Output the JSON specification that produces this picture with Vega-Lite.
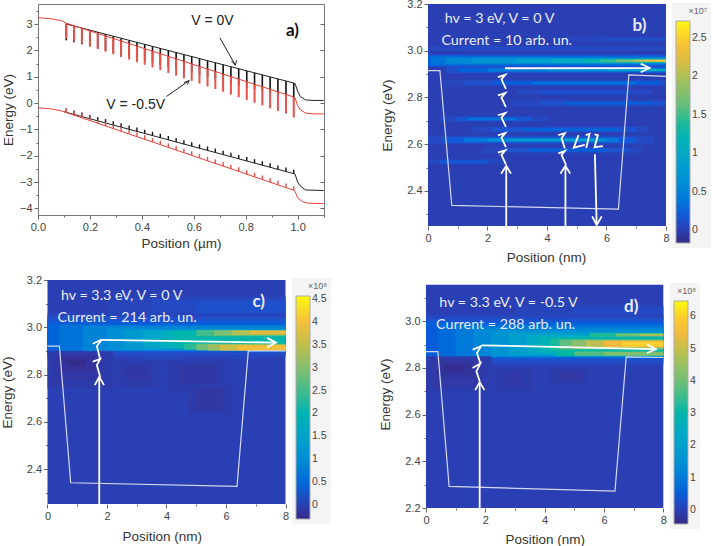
{
"$schema":"https://vega.github.io/schema/vega-lite/v6.json",
"autosize":"none",
"padding":{"left":38,"top":4,"right":675,"bottom":542},
"background":"white",
"columns":2,
"bounds":"flush",
"spacing":{"row":54,"column":102},
"resolve":{"scale":{"color":"independent"},"legend":{"color":"independent"}},
"config":{"view":{"stroke":null},
"axis":{"labelFont":"Liberation Sans","titleFont":"Liberation Sans","labelFontSize":11,"titleFontSize":13.5,"titleFontWeight":"normal","labelColor":"#444","titleColor":"#333","tickColor":"#666","domainColor":"#777","grid":false,"labelOverlap":false,"labelFlush":false,"tickSize":4},
"legend":{"labelFont":"Liberation Sans","titleFont":"Liberation Sans"}},
"datasets":{
"teeth":[
{"x":0.109,"bt":3.00,"bb":2.38,"rt":3.03,"rb":2.45,"vb":-0.35,"vbt":-0.2,"vr":-0.36,"vrt":-0.21},
{"x":0.139,"bt":2.93,"bb":2.31,"rt":2.94,"rb":2.36,"vb":-0.43,"vbt":-0.28,"vr":-0.46,"vrt":-0.31},
{"x":0.169,"bt":2.85,"bb":2.23,"rt":2.84,"rb":2.26,"vb":-0.51,"vbt":-0.36,"vr":-0.56,"vrt":-0.41},
{"x":0.2,"bt":2.77,"bb":2.15,"rt":2.74,"rb":2.16,"vb":-0.6,"vbt":-0.45,"vr":-0.67,"vrt":-0.52},
{"x":0.23,"bt":2.69,"bb":2.07,"rt":2.65,"rb":2.05,"vb":-0.68,"vbt":-0.53,"vr":-0.77,"vrt":-0.62},
{"x":0.26,"bt":2.62,"bb":2.0,"rt":2.55,"rb":1.95,"vb":-0.76,"vbt":-0.61,"vr":-0.87,"vrt":-0.72},
{"x":0.29,"bt":2.54,"bb":1.92,"rt":2.45,"rb":1.85,"vb":-0.84,"vbt":-0.69,"vr":-0.97,"vrt":-0.82},
{"x":0.32,"bt":2.46,"bb":1.84,"rt":2.36,"rb":1.75,"vb":-0.92,"vbt":-0.77,"vr":-1.07,"vrt":-0.92},
{"x":0.351,"bt":2.38,"bb":1.76,"rt":2.26,"rb":1.65,"vb":-1.0,"vbt":-0.85,"vr":-1.17,"vrt":-1.02},
{"x":0.381,"bt":2.31,"bb":1.69,"rt":2.16,"rb":1.55,"vb":-1.08,"vbt":-0.93,"vr":-1.27,"vrt":-1.12},
{"x":0.411,"bt":2.23,"bb":1.61,"rt":2.07,"rb":1.45,"vb":-1.16,"vbt":-1.01,"vr":-1.37,"vrt":-1.22},
{"x":0.441,"bt":2.15,"bb":1.53,"rt":1.97,"rb":1.35,"vb":-1.24,"vbt":-1.09,"vr":-1.48,"vrt":-1.33},
{"x":0.471,"bt":2.08,"bb":1.46,"rt":1.87,"rb":1.25,"vb":-1.32,"vbt":-1.17,"vr":-1.58,"vrt":-1.43},
{"x":0.502,"bt":2.0,"bb":1.38,"rt":1.78,"rb":1.14,"vb":-1.4,"vbt":-1.25,"vr":-1.68,"vrt":-1.53},
{"x":0.532,"bt":1.92,"bb":1.3,"rt":1.68,"rb":1.04,"vb":-1.48,"vbt":-1.33,"vr":-1.78,"vrt":-1.63},
{"x":0.562,"bt":1.84,"bb":1.22,"rt":1.58,"rb":0.94,"vb":-1.56,"vbt":-1.41,"vr":-1.88,"vrt":-1.73},
{"x":0.592,"bt":1.77,"bb":1.15,"rt":1.49,"rb":0.84,"vb":-1.64,"vbt":-1.49,"vr":-1.98,"vrt":-1.83},
{"x":0.622,"bt":1.69,"bb":1.07,"rt":1.39,"rb":0.74,"vb":-1.72,"vbt":-1.57,"vr":-2.08,"vrt":-1.93},
{"x":0.653,"bt":1.61,"bb":0.99,"rt":1.29,"rb":0.63,"vb":-1.8,"vbt":-1.65,"vr":-2.19,"vrt":-2.04},
{"x":0.683,"bt":1.53,"bb":0.91,"rt":1.2,"rb":0.53,"vb":-1.88,"vbt":-1.73,"vr":-2.29,"vrt":-2.14},
{"x":0.713,"bt":1.46,"bb":0.84,"rt":1.1,"rb":0.43,"vb":-1.96,"vbt":-1.81,"vr":-2.39,"vrt":-2.24},
{"x":0.743,"bt":1.38,"bb":0.76,"rt":1.0,"rb":0.32,"vb":-2.04,"vbt":-1.89,"vr":-2.49,"vrt":-2.34},
{"x":0.773,"bt":1.3,"bb":0.68,"rt":0.91,"rb":0.22,"vb":-2.12,"vbt":-1.97,"vr":-2.59,"vrt":-2.44},
{"x":0.804,"bt":1.22,"bb":0.6,"rt":0.81,"rb":0.12,"vb":-2.2,"vbt":-2.05,"vr":-2.7,"vrt":-2.55},
{"x":0.834,"bt":1.15,"bb":0.53,"rt":0.71,"rb":0.01,"vb":-2.28,"vbt":-2.13,"vr":-2.8,"vrt":-2.65},
{"x":0.864,"bt":1.07,"bb":0.45,"rt":0.62,"rb":-0.09,"vb":-2.36,"vbt":-2.21,"vr":-2.9,"vrt":-2.75},
{"x":0.894,"bt":0.99,"bb":0.37,"rt":0.52,"rb":-0.2,"vb":-2.44,"vbt":-2.29,"vr":-3.0,"vrt":-2.85},
{"x":0.924,"bt":0.92,"bb":0.3,"rt":0.42,"rb":-0.3,"vb":-2.52,"vbt":-2.37,"vr":-3.1,"vrt":-2.95},
{"x":0.955,"bt":0.84,"bb":0.22,"rt":0.33,"rb":-0.4,"vb":-2.6,"vbt":-2.45,"vr":-3.2,"vrt":-3.05},
{"x":0.985,"bt":0.76,"bb":0.13,"rt":0.23,"rb":-0.55,"vb":-2.68,"vbt":-2.53,"vr":-3.31,"vrt":-3.16}
],
"aLines":[
{"s":"bc","o":1,"x":0.109,"y":3.0},{"s":"bc","o":2,"x":0.985,"y":0.76},{"s":"bc","o":3,"x":0.99,"y":0.74},{"s":"bc","o":4,"x":1.0,"y":0.45},{"s":"bc","o":5,"x":1.01,"y":0.25},{"s":"bc","o":6,"x":1.03,"y":0.12},{"s":"bc","o":7,"x":1.06,"y":0.1},{"s":"bc","o":8,"x":1.1,"y":0.1},
{"s":"bv","o":1,"x":0.1,"y":-0.33},{"s":"bv","o":2,"x":0.985,"y":-2.68},{"s":"bv","o":3,"x":0.99,"y":-2.7},{"s":"bv","o":4,"x":1.0,"y":-3.0},{"s":"bv","o":5,"x":1.01,"y":-3.15},{"s":"bv","o":6,"x":1.03,"y":-3.3},{"s":"bv","o":7,"x":1.1,"y":-3.32},
{"s":"an1","o":1,"x":0.7,"y":2.48},{"s":"an1","o":2,"x":0.76,"y":1.44},
{"s":"an2","o":1,"x":0.745,"y":1.6},{"s":"an2","o":2,"x":0.76,"y":1.44},{"s":"an2","o":3,"x":0.765,"y":1.62},
{"s":"an3","o":1,"x":0.495,"y":0.25},{"s":"an3","o":2,"x":0.582,"y":0.85},
{"s":"an4","o":1,"x":0.562,"y":0.78},{"s":"an4","o":2,"x":0.582,"y":0.85},{"s":"an4","o":3,"x":0.575,"y":0.7}
],
"aRed":[
{"s":"rc","o":1,"x":0.0,"y":3.24},{"s":"rc","o":2,"x":0.05,"y":3.2},{"s":"rc","o":3,"x":0.09,"y":3.13},{"s":"rc","o":4,"x":0.109,"y":3.03},{"s":"rc","o":5,"x":0.985,"y":0.23},{"s":"rc","o":6,"x":0.99,"y":0.2},{"s":"rc","o":7,"x":1.0,"y":-0.1},{"s":"rc","o":8,"x":1.01,"y":-0.25},{"s":"rc","o":9,"x":1.03,"y":-0.38},{"s":"rc","o":10,"x":1.06,"y":-0.41},{"s":"rc","o":11,"x":1.1,"y":-0.41},
{"s":"rv","o":1,"x":0.0,"y":-0.18},{"s":"rv","o":2,"x":0.05,"y":-0.22},{"s":"rv","o":3,"x":0.09,"y":-0.3},{"s":"rv","o":4,"x":0.109,"y":-0.36},{"s":"rv","o":5,"x":0.985,"y":-3.31},{"s":"rv","o":6,"x":0.99,"y":-3.35},{"s":"rv","o":7,"x":1.0,"y":-3.6},{"s":"rv","o":8,"x":1.02,"y":-3.75},{"s":"rv","o":9,"x":1.04,"y":-3.8},{"s":"rv","o":10,"x":1.1,"y":-3.82}
],
"aText":[{"x":0.59,"y":3.11,"t":"V = 0V"},{"x":0.263,"y":-0.06,"t":"V = -0.5V"}],
"aLab":[{"x":0.98,"y":2.73,"t":"a)"}],
"bHeat":[
{"x0":0,"x1":8,"y0":2.25,"y1":3.2,"v":0},
{"x0":4.5,"x1":8,"y0":3.04,"y1":3.06,"v":0.06},{"x0":6,"x1":8,"y0":3.045,"y1":3.055,"v":0.12},
{"x0":0,"x1":8,"y0":3.0,"y1":3.02,"v":0.06},{"x0":1,"x1":7,"y0":3.005,"y1":3.015,"v":0.1},
{"x0":0,"x1":8,"y0":2.93,"y1":2.985,"v":0.12},
{"x0":0,"x1":8,"y0":2.935,"y1":2.98,"v":0.25},
{"x0":0.1,"x1":8,"y0":2.94,"y1":2.975,"v":0.38},
{"x0":0.6,"x1":8,"y0":2.943,"y1":2.971,"v":0.52},
{"x0":1.5,"x1":8,"y0":2.946,"y1":2.968,"v":0.7},
{"x0":3,"x1":8,"y0":2.948,"y1":2.966,"v":0.88},
{"x0":4.2,"x1":8,"y0":2.949,"y1":2.965,"v":1.05},
{"x0":5.2,"x1":8,"y0":2.95,"y1":2.964,"v":1.25},
{"x0":5.8,"x1":8,"y0":2.951,"y1":2.963,"v":1.45},
{"x0":6.3,"x1":8,"y0":2.952,"y1":2.962,"v":1.7},
{"x0":6.9,"x1":8,"y0":2.953,"y1":2.961,"v":2.0},
{"x0":7.3,"x1":8,"y0":2.954,"y1":2.96,"v":2.3},
{"x0":7.7,"x1":8,"y0":2.955,"y1":2.959,"v":2.5},
{"x0":0.6,"x1":8,"y0":2.905,"y1":2.93,"v":0.12},
{"x0":1,"x1":8,"y0":2.908,"y1":2.927,"v":0.25},
{"x0":2,"x1":8,"y0":2.91,"y1":2.925,"v":0.42},
{"x0":4,"x1":8,"y0":2.912,"y1":2.923,"v":0.6},
{"x0":6,"x1":8,"y0":2.913,"y1":2.922,"v":0.85},
{"x0":7,"x1":8,"y0":2.914,"y1":2.921,"v":1.15},
{"x0":0.5,"x1":8,"y0":2.848,"y1":2.876,"v":0.05},{"x0":1.2,"x1":8,"y0":2.851,"y1":2.873,"v":0.12},{"x0":2.2,"x1":7.8,"y0":2.854,"y1":2.87,"v":0.22},{"x0":3.5,"x1":7,"y0":2.857,"y1":2.867,"v":0.35},
{"x0":3,"x1":7.5,"y0":2.812,"y1":2.832,"v":0.08},{"x0":3.8,"x1":6.8,"y0":2.816,"y1":2.828,"v":0.17},
{"x0":2.8,"x1":8,"y0":2.76,"y1":2.79,"v":0.06},{"x0":3.8,"x1":8,"y0":2.767,"y1":2.784,"v":0.14},{"x0":4.6,"x1":7.6,"y0":2.77,"y1":2.78,"v":0.24},
{"x0":0.4,"x1":4,"y0":2.696,"y1":2.72,"v":0.07},{"x0":0.9,"x1":3.5,"y0":2.699,"y1":2.717,"v":0.17},{"x0":1.3,"x1":3,"y0":2.703,"y1":2.713,"v":0.36},
{"x0":1.5,"x1":7.4,"y0":2.65,"y1":2.675,"v":0.08},{"x0":2.2,"x1":7,"y0":2.654,"y1":2.671,"v":0.17},{"x0":3.2,"x1":6.4,"y0":2.657,"y1":2.668,"v":0.27},
{"x0":0,"x1":7.6,"y0":2.6,"y1":2.636,"v":0.08},{"x0":0.5,"x1":7,"y0":2.605,"y1":2.631,"v":0.2},{"x0":1.2,"x1":6.4,"y0":2.609,"y1":2.627,"v":0.4},{"x0":2,"x1":6,"y0":2.612,"y1":2.624,"v":0.62},{"x0":2.8,"x1":5.6,"y0":2.614,"y1":2.622,"v":0.85},
{"x0":1.8,"x1":7.2,"y0":2.562,"y1":2.588,"v":0.06},{"x0":2.6,"x1":6.8,"y0":2.566,"y1":2.584,"v":0.14},{"x0":3.4,"x1":6,"y0":2.569,"y1":2.581,"v":0.24},
{"x0":0,"x1":2.6,"y0":2.514,"y1":2.536,"v":0.07},{"x0":0.4,"x1":2,"y0":2.519,"y1":2.531,"v":0.2}
],
"bWell":[{"s":"w","o":1,"x":0,"y":2.915},{"s":"w","o":2,"x":0.4,"y":2.915},{"s":"w","o":3,"x":0.8,"y":2.338},{"s":"w","o":4,"x":6.4,"y":2.322},{"s":"w","o":5,"x":6.75,"y":2.897},{"s":"w","o":6,"x":8,"y":2.89}],
"bArrows":[
{"s":"a1","o":1,"x":2.63,"y":2.25},{"s":"a1","o":2,"x":2.63,"y":2.505},
{"s":"a1h","o":1,"x":2.46,"y":2.474},{"s":"a1h","o":2,"x":2.63,"y":2.508},{"s":"a1h","o":3,"x":2.79,"y":2.474},
{"s":"a2","o":1,"x":4.62,"y":2.25},{"s":"a2","o":2,"x":4.62,"y":2.505},
{"s":"a2h","o":1,"x":4.45,"y":2.474},{"s":"a2h","o":2,"x":4.62,"y":2.508},{"s":"a2h","o":3,"x":4.78,"y":2.474},
{"s":"d","o":1,"x":5.61,"y":2.557},{"s":"d","o":2,"x":5.67,"y":2.256},
{"s":"dh","o":1,"x":5.52,"y":2.291},{"s":"dh","o":2,"x":5.67,"y":2.254},{"s":"dh","o":3,"x":5.84,"y":2.291},
{"s":"h","o":1,"x":2.59,"y":2.925},{"s":"h","o":2,"x":7.43,"y":2.926},
{"s":"hh","o":1,"x":7.15,"y":2.945},{"s":"hh","o":2,"x":7.45,"y":2.926},{"s":"hh","o":3,"x":7.15,"y":2.908},
{"s":"z1","o":1,"x":2.35,"y":2.887},{"s":"z1","o":2,"x":2.6,"y":2.897},{"s":"z1","o":3,"x":2.47,"y":2.877},{"s":"z1","o":4,"x":2.62,"y":2.837},
{"s":"z2","o":1,"x":2.35,"y":2.809},{"s":"z2","o":2,"x":2.6,"y":2.819},{"s":"z2","o":3,"x":2.47,"y":2.799},{"s":"z2","o":4,"x":2.62,"y":2.759},
{"s":"z3","o":1,"x":2.35,"y":2.724},{"s":"z3","o":2,"x":2.6,"y":2.734},{"s":"z3","o":3,"x":2.47,"y":2.714},{"s":"z3","o":4,"x":2.62,"y":2.674},
{"s":"z4","o":1,"x":2.35,"y":2.638},{"s":"z4","o":2,"x":2.6,"y":2.648},{"s":"z4","o":3,"x":2.47,"y":2.628},{"s":"z4","o":4,"x":2.62,"y":2.588},
{"s":"z5","o":1,"x":2.35,"y":2.564},{"s":"z5","o":2,"x":2.6,"y":2.574},{"s":"z5","o":3,"x":2.47,"y":2.554},{"s":"z5","o":4,"x":2.62,"y":2.514},
{"s":"y1","o":1,"x":4.38,"y":2.639},{"s":"y1","o":2,"x":4.6,"y":2.647},{"s":"y1","o":3,"x":4.49,"y":2.625},{"s":"y1","o":4,"x":4.6,"y":2.582},
{"s":"y2","o":1,"x":4.38,"y":2.561},{"s":"y2","o":2,"x":4.6,"y":2.571},{"s":"y2","o":3,"x":4.49,"y":2.554},{"s":"y2","o":4,"x":4.64,"y":2.511},
{"s":"k1","o":1,"x":5.06,"y":2.639},{"s":"k1","o":2,"x":4.9,"y":2.585},{"s":"k1","o":3,"x":5.27,"y":2.597},
{"s":"k2","o":1,"x":5.3,"y":2.639},{"s":"k2","o":2,"x":5.43,"y":2.644},{"s":"k2","o":3,"x":5.32,"y":2.584},
{"s":"k3","o":1,"x":5.6,"y":2.642},{"s":"k3","o":2,"x":5.71,"y":2.639},{"s":"k3","o":3,"x":5.6,"y":2.587},{"s":"k3","o":4,"x":5.88,"y":2.592}
],
"bText":[{"x":0.56,"y":3.137,"t":"hv = 3 eV, V = 0 V"},{"x":0.45,"y":3.043,"t":"Current = 10 arb. un."}],
"bLab":[{"x":7.11,"y":3.104,"t":"b)"}],
"cHeat":[
{"x0":0,"x1":8,"y0":2.252,"y1":3.2,"v":0},
{"x0":2,"x1":8,"y0":3.04,"y1":3.13,"v":0.06},{"x0":3.5,"x1":8,"y0":3.05,"y1":3.12,"v":0.14},{"x0":5,"x1":8,"y0":3.06,"y1":3.11,"v":0.22},
{"x0":3,"x1":4.6,"y0":2.865,"y1":2.89,"v":0.1},{"x0":6,"x1":7,"y0":2.865,"y1":2.89,"v":0.12},
{"x0":0,"x1":8,"y0":2.875,"y1":3.06,"v":0.08},
{"x0":0,"x1":8,"y0":2.885,"y1":3.045,"v":0.2},
{"x0":0,"x1":8,"y0":2.895,"y1":3.03,"v":0.32},
{"x0":0,"x1":8,"y0":2.91,"y1":3.015,"v":0.45},
{"x0":0.4,"x1":8,"y0":2.9,"y1":3.01,"v":0.6},
{"x0":1.2,"x1":8,"y0":2.9,"y1":3.005,"v":0.8},
{"x0":2,"x1":8,"y0":2.905,"y1":2.995,"v":1.0},
{"x0":2.6,"x1":8,"y0":2.905,"y1":2.99,"v":1.25},
{"x0":3.2,"x1":8,"y0":2.91,"y1":2.985,"v":1.55},
{"x0":3.8,"x1":8,"y0":2.912,"y1":2.985,"v":1.85},
{"x0":4.2,"x1":8,"y0":2.914,"y1":2.985,"v":2.1},
{"x0":4.6,"x1":8,"y0":2.906,"y1":2.93,"v":2.4},
{"x0":5,"x1":8,"y0":2.903,"y1":2.93,"v":2.8},
{"x0":5.4,"x1":8,"y0":2.902,"y1":2.928,"v":3.2},
{"x0":5.8,"x1":8,"y0":2.902,"y1":2.925,"v":3.6},
{"x0":6.4,"x1":8,"y0":2.903,"y1":2.923,"v":3.95},
{"x0":5,"x1":8,"y0":2.962,"y1":2.988,"v":2.5},
{"x0":5.6,"x1":8,"y0":2.965,"y1":2.987,"v":2.9},
{"x0":6.2,"x1":8,"y0":2.968,"y1":2.986,"v":3.4},
{"x0":6.8,"x1":8,"y0":2.971,"y1":2.984,"v":3.8},
{"x0":0,"x1":2.2,"y0":2.74,"y1":2.9,"v":-0.04},
{"x0":0.2,"x1":1.9,"y0":2.77,"y1":2.89,"v":-0.09},
{"x0":0.4,"x1":1.6,"y0":2.81,"y1":2.88,"v":-0.16},
{"x0":0.6,"x1":1.3,"y0":2.835,"y1":2.865,"v":-0.25},
{"x0":2.3,"x1":3.7,"y0":2.74,"y1":2.86,"v":-0.04},
{"x0":2.6,"x1":3.4,"y0":2.77,"y1":2.84,"v":-0.09},
{"x0":4.1,"x1":6,"y0":2.72,"y1":2.86,"v":-0.04},
{"x0":4.4,"x1":5.7,"y0":2.75,"y1":2.84,"v":-0.09},
{"x0":4.7,"x1":6.2,"y0":2.63,"y1":2.76,"v":-0.05},
{"x0":4.95,"x1":5.9,"y0":2.65,"y1":2.74,"v":-0.11}
],
"cWell":[{"s":"w","o":1,"x":0,"y":2.92},{"s":"w","o":2,"x":0.4,"y":2.92},{"s":"w","o":3,"x":0.78,"y":2.342},{"s":"w","o":4,"x":6.37,"y":2.327},{"s":"w","o":5,"x":6.75,"y":2.9},{"s":"w","o":6,"x":8,"y":2.9}],
"cArrows":[
{"s":"a","o":1,"x":1.74,"y":2.252},{"s":"a","o":2,"x":1.74,"y":2.785},
{"s":"ah","o":1,"x":1.59,"y":2.755},{"s":"ah","o":2,"x":1.74,"y":2.79},{"s":"ah","o":3,"x":1.9,"y":2.755},
{"s":"h","o":1,"x":1.83,"y":2.947},{"s":"h","o":2,"x":7.66,"y":2.935},
{"s":"hh","o":1,"x":7.38,"y":2.955},{"s":"hh","o":2,"x":7.68,"y":2.935},{"s":"hh","o":3,"x":7.38,"y":2.915},
{"s":"z1","o":1,"x":1.52,"y":2.93},{"s":"z1","o":2,"x":1.83,"y":2.948},{"s":"z1","o":3,"x":1.66,"y":2.92},{"s":"z1","o":4,"x":1.77,"y":2.865},
{"s":"z2","o":1,"x":1.52,"y":2.855},{"s":"z2","o":2,"x":1.77,"y":2.865},{"s":"z2","o":3,"x":1.66,"y":2.84},{"s":"z2","o":4,"x":1.77,"y":2.79}
],
"cText":[{"x":0.45,"y":3.134,"t":"hv = 3.3 eV, V = 0 V"},{"x":0.34,"y":3.04,"t":"Current = 214 arb. un."}],
"cLab":[{"x":7.1,"y":3.107,"t":"c)"}],
"dHeat":[
{"x0":0,"x1":8,"y0":2.2,"y1":3.157,"v":0},
{"x0":3,"x1":8,"y0":3.0,"y1":3.07,"v":0.1},{"x0":5,"x1":8,"y0":3.01,"y1":3.06,"v":0.2},
{"x0":0,"x1":8,"y0":2.81,"y1":3.03,"v":0.12},
{"x0":0,"x1":8,"y0":2.825,"y1":3.015,"v":0.3},
{"x0":0,"x1":8,"y0":2.84,"y1":3.0,"v":0.5},
{"x0":0.4,"x1":8,"y0":2.845,"y1":2.99,"v":0.7},
{"x0":1,"x1":8,"y0":2.845,"y1":2.98,"v":0.95},
{"x0":1.6,"x1":8,"y0":2.85,"y1":2.97,"v":1.25},
{"x0":2.2,"x1":8,"y0":2.85,"y1":2.96,"v":1.6},
{"x0":2.8,"x1":8,"y0":2.855,"y1":2.95,"v":2.0},
{"x0":3.4,"x1":8,"y0":2.86,"y1":2.94,"v":2.4},
{"x0":3.8,"x1":8,"y0":2.865,"y1":2.935,"v":2.8},
{"x0":4.2,"x1":8,"y0":2.875,"y1":2.925,"v":3.3},
{"x0":4.5,"x1":8,"y0":2.88,"y1":2.922,"v":3.8},
{"x0":4.9,"x1":8,"y0":2.884,"y1":2.92,"v":4.3},
{"x0":5.4,"x1":8,"y0":2.887,"y1":2.918,"v":4.9},
{"x0":6,"x1":8,"y0":2.89,"y1":2.916,"v":5.5},
{"x0":6.6,"x1":8,"y0":2.892,"y1":2.913,"v":6.0},
{"x0":4.4,"x1":8,"y0":2.85,"y1":2.873,"v":3.2},
{"x0":5,"x1":8,"y0":2.852,"y1":2.871,"v":3.7},
{"x0":6,"x1":8,"y0":2.854,"y1":2.869,"v":4.2},
{"x0":5.5,"x1":8,"y0":2.933,"y1":2.95,"v":3.3},
{"x0":6.4,"x1":8,"y0":2.935,"y1":2.948,"v":4.0},
{"x0":7.2,"x1":8,"y0":2.937,"y1":2.946,"v":4.7},
{"x0":0,"x1":2.2,"y0":2.7,"y1":2.85,"v":-0.06},
{"x0":0.2,"x1":1.9,"y0":2.72,"y1":2.84,"v":-0.12},
{"x0":0.4,"x1":1.6,"y0":2.76,"y1":2.83,"v":-0.22},
{"x0":0.6,"x1":1.3,"y0":2.785,"y1":2.815,"v":-0.35},
{"x0":2.3,"x1":3.6,"y0":2.7,"y1":2.8,"v":-0.06},
{"x0":2.6,"x1":3.3,"y0":2.72,"y1":2.78,"v":-0.12},
{"x0":4.1,"x1":5.5,"y0":2.73,"y1":2.8,"v":-0.06},
{"x0":4.4,"x1":5.2,"y0":2.745,"y1":2.785,"v":-0.13}
],
"dWell":[{"s":"w","o":1,"x":0,"y":2.87},{"s":"w","o":2,"x":0.4,"y":2.87},{"s":"w","o":3,"x":0.78,"y":2.293},{"s":"w","o":4,"x":6.37,"y":2.272},{"s":"w","o":5,"x":6.75,"y":2.848},{"s":"w","o":6,"x":8,"y":2.845}],
"dArrows":[
{"s":"a","o":1,"x":1.81,"y":2.2},{"s":"a","o":2,"x":1.81,"y":2.735},
{"s":"ah","o":1,"x":1.66,"y":2.705},{"s":"ah","o":2,"x":1.81,"y":2.74},{"s":"ah","o":3,"x":1.97,"y":2.705},
{"s":"h","o":1,"x":1.89,"y":2.897},{"s":"h","o":2,"x":7.73,"y":2.881},
{"s":"hh","o":1,"x":7.45,"y":2.901},{"s":"hh","o":2,"x":7.75,"y":2.881},{"s":"hh","o":3,"x":7.45,"y":2.864},
{"s":"z1","o":1,"x":1.57,"y":2.879},{"s":"z1","o":2,"x":1.85,"y":2.893},{"s":"z1","o":3,"x":1.72,"y":2.864},{"s":"z1","o":4,"x":1.83,"y":2.821},
{"s":"z2","o":1,"x":1.57,"y":2.8},{"s":"z2","o":2,"x":1.83,"y":2.819},{"s":"z2","o":3,"x":1.7,"y":2.786},{"s":"z2","o":4,"x":1.81,"y":2.743}
],
"dText":[{"x":0.45,"y":3.079,"t":"hv = 3.3 eV, V = -0.5 V"},{"x":0.34,"y":2.986,"t":"Current = 288 arb. un."}],
"dLab":[{"x":6.92,"y":3.06,"t":"d)"}]
},
"concat":[
{"width":286,"height":211,"view":{"stroke":"#777"},
"resolve":{"axis":{"x":"independent","y":"independent"}},
"layer":[
{"data":{"name":"teeth"},"mark":{"type":"rule","color":"#111","strokeWidth":1.6},
"encoding":{"x":{"field":"x","type":"quantitative","scale":{"domain":[0,1.1015],"nice":false,"zero":false},"axis":{"orient":"bottom","title":"Position (µm)","titlePadding":4,"format":".1f","values":[0,0.2,0.4,0.6,0.8,1.0],"tickSize":4}},
"y":{"field":"bt","type":"quantitative","scale":{"domain":[-4.25,3.76],"nice":false,"zero":false},"axis":{"orient":"left","title":"Energy (eV)","titlePadding":4,"values":[-4,-3,-2,-1,0,1,2,3],"tickSize":4}},"y2":{"field":"bb"}}},
{"data":{"name":"teeth"},"mark":{"type":"rule","color":"#111","strokeWidth":1.4},
"encoding":{"x":{"field":"x","type":"quantitative","axis":{"orient":"bottom","title":null,"labels":false,"domain":false,"values":[0.1,0.3,0.5,0.7,0.9,1.1],"tickSize":2}},
"y":{"field":"vb","type":"quantitative","axis":{"orient":"left","title":null,"labels":false,"domain":false,"values":[-3.5,-2.5,-1.5,-0.5,0.5,1.5,2.5,3.5],"tickSize":2}},"y2":{"field":"vbt"}}},
{"data":{"name":"aLines"},"mark":{"type":"line","color":"#222","strokeWidth":1},
"encoding":{"x":{"field":"x","type":"quantitative","axis":null},
"y":{"field":"y","type":"quantitative","axis":{"orient":"right","title":null,"labels":false,"domain":false,"values":[-4,-3,-2,-1,0,1,2,3],"tickSize":-4}},"detail":{"field":"s"},"order":{"field":"o"}}},
{"data":{"name":"teeth"},"mark":{"type":"rule","color":"#e8504a","strokeWidth":2},
"encoding":{"x":{"field":"x","type":"quantitative","axis":null},"y":{"field":"rt","type":"quantitative","axis":null},"y2":{"field":"rb"}}},
{"data":{"name":"teeth"},"mark":{"type":"rule","color":"#e8504a","strokeWidth":1.4},
"encoding":{"x":{"field":"x","type":"quantitative","axis":null},"y":{"field":"vr","type":"quantitative","axis":null},"y2":{"field":"vrt"}}},
{"data":{"name":"aRed"},"mark":{"type":"line","color":"#e5403a","strokeWidth":1},
"encoding":{"x":{"field":"x","type":"quantitative","axis":null},"y":{"field":"y","type":"quantitative","axis":null},"detail":{"field":"s"},"order":{"field":"o"}}},
{"data":{"name":"aText"},"mark":{"type":"text","align":"left","baseline":"middle","font":"Liberation Sans","fontSize":14,"color":"#222"},
"encoding":{"x":{"field":"x","type":"quantitative","axis":null},"y":{"field":"y","type":"quantitative","axis":null},"text":{"field":"t"}}},
{"data":{"name":"aLab"},"mark":{"type":"text","align":"center","baseline":"middle","font":"Lato","fontWeight":"bold","fontSize":17,"color":"#111"},
"encoding":{"x":{"field":"x","type":"quantitative","axis":null},"y":{"field":"y","type":"quantitative","axis":null},"text":{"field":"t"}}}
]},
{"width":240,"height":222,
"resolve":{"axis":{"x":"independent","y":"independent"}},
"layer":[
{"data":{"name":"bHeat"},"mark":{"type":"rect"},
"encoding":{"x":{"field":"x0","type":"quantitative","scale":{"domain":[-0.067,8],"nice":false,"zero":false},"axis":{"orient":"bottom","title":"Position (nm)","titlePadding":7,"domain":false,"values":[0,2,4,6,8]}},"x2":{"field":"x1"},
"y":{"field":"y0","type":"quantitative","scale":{"domain":[2.25,3.2],"nice":false,"zero":false},"axis":{"orient":"left","title":"Energy (eV)","titlePadding":12,"offset":-2,"domain":false,"format":".1f","values":[2.4,2.6,2.8,3.0,3.2]}},"y2":{"field":"y1"},
"color":{"field":"v","type":"quantitative","title":"×10⁷","scale":{"domain":[-0.17,0,0.2,0.5,1,1.42,1.85,2.29,2.49,2.72],"range":["#352a87","#2a3fb3","#1159d8","#0b85d6","#07a8c6","#28bb94","#92bf6a","#f0b840","#fcc830","#f9fb0e"],"clamp":true},
"legend":{"orient":"none","legendX":246,"legendY":-1,"gradientLength":222,"gradientThickness":14,"padding":4,"fillColor":"#f4f4f4","titleFontSize":9,"titleFontWeight":"normal","titleColor":"#666","titleAnchor":"end","labelFontSize":10.5,"labelColor":"#444","values":[0,0.5,1,1.5,2,2.5],"labelExpr":"''+datum.value","gradientStrokeColor":"#aaa","gradientStrokeWidth":1}}}},
{"data":{"name":"bWell"},"mark":{"type":"line","color":"#d5d9f0","strokeWidth":1.2},
"encoding":{"x":{"field":"x","type":"quantitative","axis":{"orient":"bottom","title":null,"labels":false,"domain":false,"values":[1,3,5,7],"tickSize":2}},"y":{"field":"y","type":"quantitative","axis":{"orient":"left","title":null,"labels":false,"domain":false,"offset":-2,"values":[2.3,2.5,2.7,2.9,3.1],"tickSize":2}},"detail":{"field":"s"},"order":{"field":"o"}}},
{"data":{"name":"bArrows"},"mark":{"type":"line","color":"white","strokeWidth":1.8},
"encoding":{"x":{"field":"x","type":"quantitative","axis":null},"y":{"field":"y","type":"quantitative","axis":null},"detail":{"field":"s"},"order":{"field":"o"}}},
{"data":{"name":"bText"},"mark":{"type":"text","align":"left","baseline":"middle","font":"Lato","fontSize":14.3,"color":"#e8ecfa"},
"encoding":{"x":{"field":"x","type":"quantitative","axis":null},"y":{"field":"y","type":"quantitative","axis":null},"text":{"field":"t"}}},
{"data":{"name":"bLab"},"mark":{"type":"text","align":"center","baseline":"middle","font":"Lato","fontWeight":"bold","fontSize":17,"color":"#e8ecfa"},
"encoding":{"x":{"field":"x","type":"quantitative","axis":null},"y":{"field":"y","type":"quantitative","axis":null},"text":{"field":"t"}}}
]},
{"width":247.5,"height":224,
"resolve":{"axis":{"x":"independent","y":"independent"}},
"layer":[
{"data":{"name":"cHeat"},"mark":{"type":"rect"},
"encoding":{"x":{"field":"x0","type":"quantitative","scale":{"domain":[-0.319,8],"nice":false,"zero":false},"axis":{"orient":"bottom","title":"Position (nm)","titlePadding":8,"domain":false,"values":[0,2,4,6,8]}},"x2":{"field":"x1"},
"y":{"field":"y0","type":"quantitative","scale":{"domain":[2.252,3.2],"nice":false,"zero":false},"axis":{"orient":"left","title":"Energy (eV)","titlePadding":12,"offset":-9.5,"domain":false,"format":".1f","values":[2.4,2.6,2.8,3.0,3.2]}},"y2":{"field":"y1"},
"color":{"field":"v","type":"quantitative","title":"×10⁸","scale":{"domain":[-0.3,0,0.33,0.82,1.64,2.37,3.1,3.83,4.17,4.56],"range":["#352a87","#2a3fb3","#1159d8","#0b85d6","#07a8c6","#28bb94","#92bf6a","#f0b840","#fcc830","#f9fb0e"],"clamp":true},
"legend":{"orient":"none","legendX":254,"legendY":-2,"gradientLength":223,"gradientThickness":14,"padding":4,"fillColor":"#f4f4f4","titleFontSize":9,"titleFontWeight":"normal","titleColor":"#666","titleAnchor":"end","labelFontSize":10.5,"labelColor":"#444","values":[0,0.5,1,1.5,2,2.5,3,3.5,4,4.5],"labelExpr":"''+datum.value","gradientStrokeColor":"#aaa","gradientStrokeWidth":1}}}},
{"data":{"name":"cWell"},"mark":{"type":"line","color":"#d5d9f0","strokeWidth":1.2},
"encoding":{"x":{"field":"x","type":"quantitative","axis":{"orient":"bottom","title":null,"labels":false,"domain":false,"values":[1,3,5,7],"tickSize":2}},"y":{"field":"y","type":"quantitative","axis":{"orient":"left","title":null,"labels":false,"domain":false,"offset":-9.5,"values":[2.3,2.5,2.7,2.9,3.1],"tickSize":2}},"detail":{"field":"s"},"order":{"field":"o"}}},
{"data":{"name":"cArrows"},"mark":{"type":"line","color":"white","strokeWidth":1.8},
"encoding":{"x":{"field":"x","type":"quantitative","axis":null},"y":{"field":"y","type":"quantitative","axis":null},"detail":{"field":"s"},"order":{"field":"o"}}},
{"data":{"name":"cText"},"mark":{"type":"text","align":"left","baseline":"middle","font":"Lato","fontSize":14.3,"color":"#e8ecfa"},
"encoding":{"x":{"field":"x","type":"quantitative","axis":null},"y":{"field":"y","type":"quantitative","axis":null},"text":{"field":"t"}}},
{"data":{"name":"cLab"},"mark":{"type":"text","align":"center","baseline":"middle","font":"Lato","fontWeight":"bold","fontSize":17,"color":"#e8ecfa"},
"encoding":{"x":{"field":"x","type":"quantitative","axis":null},"y":{"field":"y","type":"quantitative","axis":null},"text":{"field":"t"}}}
]},
{"width":237.3,"height":228,
"resolve":{"axis":{"x":"independent","y":"independent"}},
"layer":[
{"data":{"name":"dHeat"},"mark":{"type":"rect"},
"encoding":{"x":{"field":"x0","type":"quantitative","scale":{"domain":[0,8],"nice":false,"zero":false},"axis":{"orient":"bottom","title":"Position (nm)","titlePadding":7,"domain":false,"values":[0,2,4,6,8]}},"x2":{"field":"x1"},
"y":{"field":"y0","type":"quantitative","scale":{"domain":[2.2,3.177],"nice":false,"zero":false},"axis":{"orient":"left","title":"Energy (eV)","titlePadding":12,"domain":false,"format":".1f","values":[2.2,2.4,2.6,2.8,3.0]}},"y2":{"field":"y1"},
"color":{"field":"v","type":"quantitative","title":"×10⁸","scale":{"domain":[-0.44,0,0.46,1.15,2.33,3.37,4.4,5.44,5.93,6.48],"range":["#352a87","#2a3fb3","#1159d8","#0b85d6","#07a8c6","#28bb94","#92bf6a","#f0b840","#fcc830","#f9fb0e"],"clamp":true},
"legend":{"orient":"none","legendX":244,"legendY":3,"gradientLength":223,"gradientThickness":14,"padding":4,"fillColor":"#f4f4f4","titleFontSize":9,"titleFontWeight":"normal","titleColor":"#666","titleAnchor":"end","labelFontSize":10.5,"labelColor":"#444","values":[0,1,2,3,4,5,6],"labelExpr":"''+datum.value","gradientStrokeColor":"#aaa","gradientStrokeWidth":1}}}},
{"data":{"name":"dWell"},"mark":{"type":"line","color":"#d5d9f0","strokeWidth":1.2},
"encoding":{"x":{"field":"x","type":"quantitative","axis":{"orient":"bottom","title":null,"labels":false,"domain":false,"values":[1,3,5,7],"tickSize":2}},"y":{"field":"y","type":"quantitative","axis":{"orient":"left","title":null,"labels":false,"domain":false,"values":[2.3,2.5,2.7,2.9,3.1],"tickSize":2}},"detail":{"field":"s"},"order":{"field":"o"}}},
{"data":{"name":"dArrows"},"mark":{"type":"line","color":"white","strokeWidth":1.8},
"encoding":{"x":{"field":"x","type":"quantitative","axis":null},"y":{"field":"y","type":"quantitative","axis":null},"detail":{"field":"s"},"order":{"field":"o"}}},
{"data":{"name":"dText"},"mark":{"type":"text","align":"left","baseline":"middle","font":"Lato","fontSize":14.3,"color":"#e8ecfa"},
"encoding":{"x":{"field":"x","type":"quantitative","axis":null},"y":{"field":"y","type":"quantitative","axis":null},"text":{"field":"t"}}},
{"data":{"name":"dLab"},"mark":{"type":"text","align":"center","baseline":"middle","font":"Lato","fontWeight":"bold","fontSize":17,"color":"#e8ecfa"},
"encoding":{"x":{"field":"x","type":"quantitative","axis":null},"y":{"field":"y","type":"quantitative","axis":null},"text":{"field":"t"}}}
]}
]
}
